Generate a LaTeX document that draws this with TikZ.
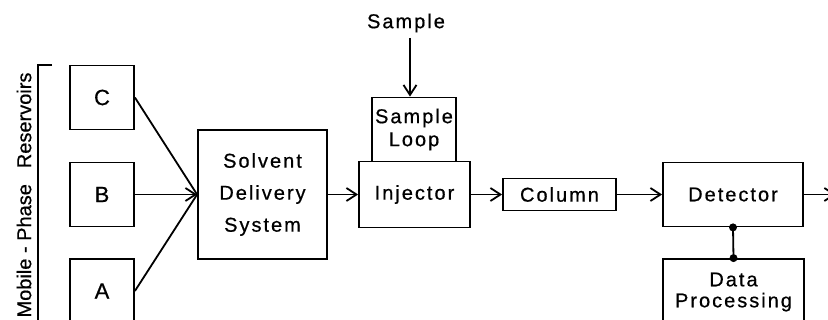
\documentclass[tikz,border=0pt]{standalone}
\usepackage{fontspec}
\setmainfont{Liberation Sans}[LetterSpace=10,FakeBold=0.6]
\newfontfamily\rotfont{Liberation Sans}[FakeBold=0.6]
\usetikzlibrary{arrows.meta}

\begin{document}
\begin{tikzpicture}[x=1pt,y=-1pt,
        caja/.style={draw,line width=1.8pt,inner sep=0pt,align=center,font=\fontsize{20}{22}\selectfont},
        linea/.style={line width=1.8pt},
        flecha/.style={line width=1.8pt,-{Straight Barb[length=10pt,width=13pt]}},
        punto/.style={circle,fill,inner sep=0pt,minimum size=8pt}]
        % Marco de la figura (recortada a la derecha y abajo).
        \useasboundingbox (0,0) rectangle (828,320);
        \clip (0,0) rectangle (828,320);

        % Depósitos de fase móvil con su corchete y rótulo vertical.
        \node[caja,minimum width=64pt,minimum height=64pt,font=\fontsize{22}{22}\selectfont] (C) at (102,97.5) {C};
        \node[caja,minimum width=64pt,minimum height=64pt,font=\fontsize{22}{22}\selectfont] (B) at (102,194.5) {B};
        \node[caja,minimum width=64pt,minimum height=64pt,font=\fontsize{22}{22}\selectfont] (A) at (102,291) {A};
        \draw[linea] (52,65) -- (38,65) -- (38,330);
        \node[rotate=90,font=\rotfont\fontsize{20}{22}\selectfont] (rotulo) at (24,195) {Mobile - Phase\hspace{16pt}Reservoirs};

        % Bomba, inyector con su bucle, columna, detector y procesado.
        \node[caja,minimum width=129pt,minimum height=129pt,font=\fontsize{20}{32}\selectfont] (sds) at (262.5,194.5) {Solvent\\Delivery\\System};
        \node[caja,minimum width=111pt,minimum height=66pt] (iny) at (414.5,194.5) {Injector};
        \node[caja,minimum width=84pt,minimum height=64pt,font=\fontsize{20}{23}\selectfont] (bucle) at (414,129.5) {Sample\\Loop};
        \node[caja,minimum width=113pt,minimum height=32pt] (col) at (559.5,194.5) {Column};
        \node[caja,minimum width=140pt,minimum height=64pt] (det) at (733,194.5) {Detector};
        \node[caja,minimum width=141pt,minimum height=66pt,font=\fontsize{20}{21}\selectfont] (dp) at (733.5,292) {Data\\Processing};

        % Entrada de muestra y salida del detector.
        \node[font=\fontsize{20}{22}\selectfont] (muestra) at (406,23) {Sample};
        \coordinate (entrada) at (410,38);
        \coordinate (salida) at (836,194.5);

        % Conexiones entre bloques.
        \draw[linea] (C.east) -- (sds.west);
        \draw[linea] (A.east) -- (sds.west);
        \draw[flecha] (B) -- (sds);
        \draw[flecha] (sds) -- (iny);
        \draw[flecha] (entrada) -- (entrada |- bucle.north);
        \draw[flecha] (iny) -- (col);
        \draw[flecha] (col) -- (det);
        \draw[flecha] (det) -- (salida);
        \draw[linea] (det.south) -- (dp.north);
        \node[punto] (p1) at (det.south) {};
        \node[punto] (p2) at (dp.north) {};
    \end{tikzpicture}
\end{document}
